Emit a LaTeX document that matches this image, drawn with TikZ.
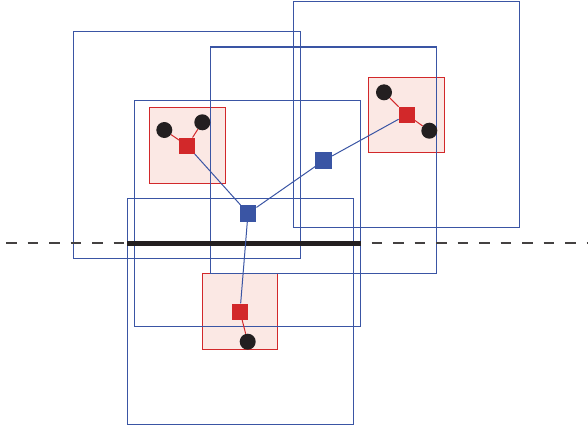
\documentclass[tikz,border=0pt]{standalone}
\usetikzlibrary{positioning}
\definecolor{regBlue}{HTML}{3A55A4}
\definecolor{cellRed}{HTML}{D2282A}
\definecolor{cellPink}{HTML}{FBE8E4}
\definecolor{dotBlack}{HTML}{231F20}

\begin{document}
\begin{tikzpicture}
  [x=1pt,y=-1pt,
   cellN/.style={rectangle,draw=cellRed,fill=cellPink,line width=1pt,minimum size=75.5pt,inner sep=0pt},
   regionN/.style={rectangle,draw=regBlue,line width=1.1pt,minimum size=226.5pt,inner sep=0pt},
   redN/.style={rectangle,fill=cellRed,minimum size=16pt,inner sep=0pt},
   blueN/.style={rectangle,fill=regBlue,minimum size=16.5pt,inner sep=0pt},
   dotN/.style={circle,fill=dotBlack,minimum size=16pt,inner sep=0pt},
   blueE/.style={draw=regBlue,line width=1pt},
   redE/.style={draw=cellRed,line width=1pt}]

  \useasboundingbox (0,0) rectangle (588,429);

  % cells
  \node[cellN] (cellA) at (187.3,145.5) {};
  \node[cellN] (cellB) at (406.3,115) {};
  \node[cellN] (cellC) at (240,311.5) {};

  % regions
  \node[regionN] (reg1) at (187,145) {};
  \node[regionN] (reg2) at (406.5,114.5) {};
  \node[regionN] (reg3) at (323.3,160.2) {};
  \node[regionN] (reg4) at (247.6,213.3) {};
  \node[regionN] (reg5) at (240.3,311.6) {};

  % cut line
  \coordinate (dashL) at (6,243);
  \coordinate (dashR) at (588,243);
  \draw[draw=dotBlack!85,line width=1.1pt,dash pattern=on 10.5pt off 11pt] (dashL) -- (dashR);
  \coordinate (cutL) at (127,243);
  \coordinate (cutR) at (361,243);
  \draw[draw=dotBlack,line width=5pt] (cutL) -- (cutR);

  % points
  \node[blueN] (p) at (248,213.3) {};
  \node[blueN] (q) at (323.7,160.6) {};

  \node[redN] (ra) at (187.3,145.7) {};
  \node[redN] (rb) at (406.8,114.7) {};
  \node[redN] (rc) at (240,311.6) {};

  \node[dotN] (a1) at (164.3,130) {};
  \node[dotN] (a2) at (202.3,122.3) {};
  \node[dotN] (b1) at (384,92.3) {};
  \node[dotN] (b2) at (429.3,130.7) {};
  \node[dotN] (c1) at (247.7,341.7) {};

  \draw[blueE] (ra) -- (p);
  \draw[blueE] (p) -- (q);
  \draw[blueE] (q) -- (rb);
  \draw[blueE] (p) -- (rc);

  \draw[redE] (ra) -- (a1);
  \draw[redE] (ra) -- (a2);
  \draw[redE] (rb) -- (b1);
  \draw[redE] (rb) -- (b2);
  \draw[redE] (rc) -- (c1);

\end{tikzpicture}
\end{document}
